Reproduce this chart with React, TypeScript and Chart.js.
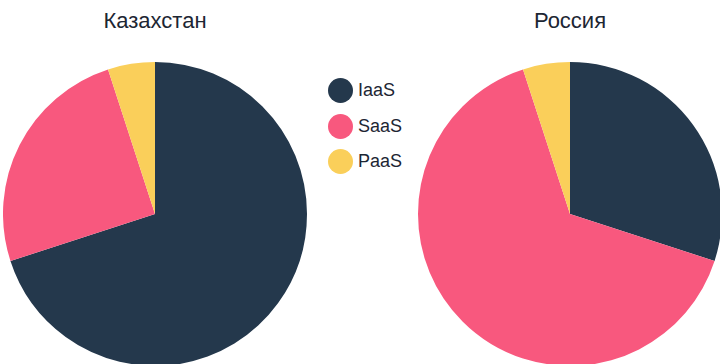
import React, { useEffect, useRef } from "react";
import { Chart, registerables } from "chart.js";

Chart.register(...registerables);

const categories = ["IaaS", "SaaS", "PaaS"];
const colors = ["#24384C", "#F8587E", "#FACF5A"];
const kazakhstanValues = [70, 25, 5];
const russiaValues = [30, 65, 5];
const titles = ["Казахстан", "Россия"];

const FONT = '"Liberation Sans", Arial, sans-serif';
const TEXT = "#1C2633";

function Pie({ values, left }: { values: number[]; left: number }) {
  const ref = useRef<HTMLCanvasElement | null>(null);
  useEffect(() => {
    if (!ref.current) return;
    const chart = new Chart(ref.current, {
      type: "pie",
      data: {
        labels: categories,
        datasets: [
          {
            data: values,
            backgroundColor: colors,
            borderWidth: 0,
          },
        ],
      },
      options: {
        responsive: false,
        animation: false,
        layout: { padding: 0 },
        plugins: {
          legend: { display: false },
          title: { display: false },
          tooltip: { enabled: false },
        },
      },
    });
    return () => chart.destroy();
  }, [values]);
  return (
    <canvas
      ref={ref}
      width={304}
      height={304}
      style={{ position: "absolute", left, top: 62, width: 304, height: 304 }}
    />
  );
}

export default function App() {
  return (
    <div
      style={{
        position: "fixed",
        left: 0,
        top: 0,
        width: 720,
        height: 364,
        overflow: "hidden",
        background: "#fff",
        fontFamily: FONT,
        color: TEXT,
      }}
    >
      <div
        style={{
          position: "absolute",
          left: 55,
          width: 200,
          top: 6,
          textAlign: "center",
          fontSize: 22,
          lineHeight: "30px",
        }}
      >
        {titles[0]}
      </div>
      <div
        style={{
          position: "absolute",
          left: 470,
          width: 200,
          top: 6,
          textAlign: "center",
          fontSize: 22,
          lineHeight: "30px",
        }}
      >
        {titles[1]}
      </div>
      <Pie values={kazakhstanValues} left={3} />
      <Pie values={russiaValues} left={418} />
      {categories.map((c, i) => (
        <div
          key={c}
          style={{
            position: "absolute",
            left: 328,
            top: 78 + i * 35.5,
            height: 25,
            display: "flex",
            alignItems: "center",
            fontSize: 18,
          }}
        >
          <span
            style={{
              width: 25,
              height: 25,
              borderRadius: "50%",
              background: colors[i],
              display: "inline-block",
              marginRight: 5,
            }}
          />
          <span>{c}</span>
        </div>
      ))}
    </div>
  );
}
